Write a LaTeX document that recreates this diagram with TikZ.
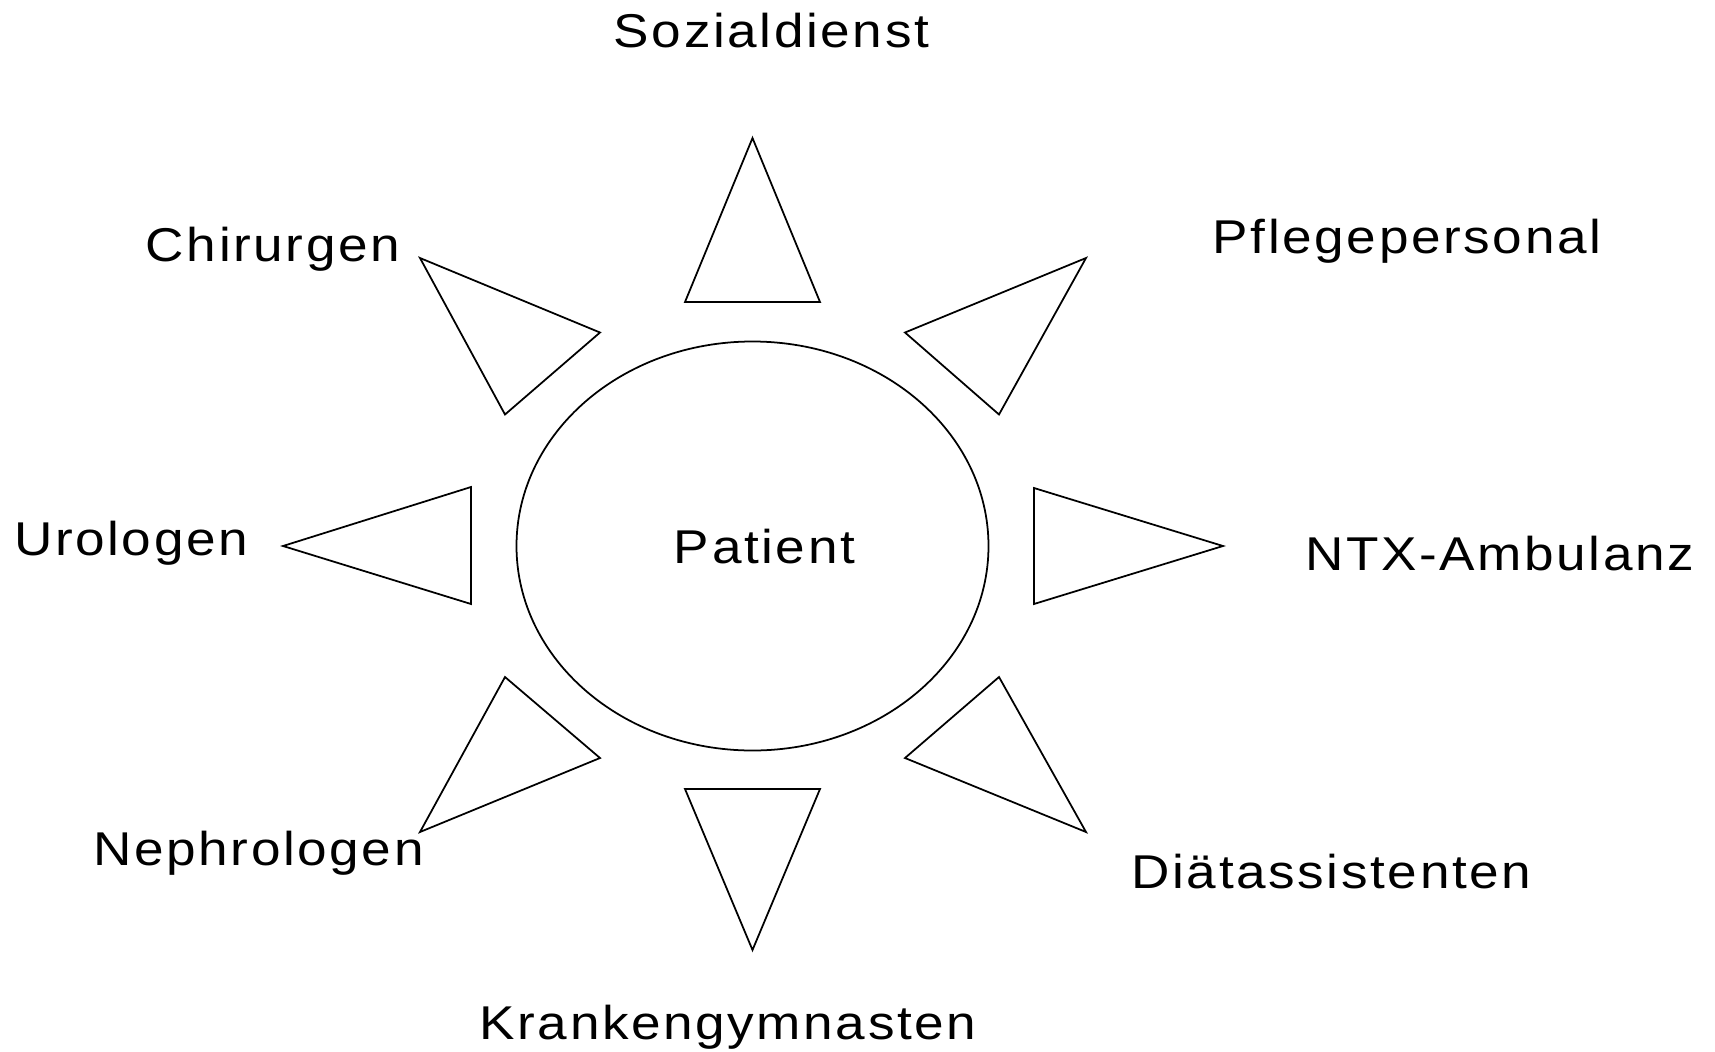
\documentclass[tikz,border=0pt]{standalone}
\usepackage{fontspec}
\setmainfont[FakeStretch=1.12, LetterSpace=5.5]{Liberation Sans}

\begin{document}
\begin{tikzpicture}[x=0.02cm, y=-0.02cm, line width=1pt,
    lbl/.style={anchor=base, inner sep=0pt, font=\fontsize{27}{32}\selectfont},
    ray/.style={draw, line join=miter}]

    \useasboundingbox (0,0) rectangle (1715,1052);

    % centre
    \draw (752.5,546) ellipse [x radius=236, y radius=204.5];
    \node[lbl] (patient) at (764.5,563) {Patient};

    % rays
    \draw[ray] (752.5,138) -- (685,302) -- (820,302) -- cycle;
    \draw[ray] (752.5,950) -- (685,789) -- (820,789) -- cycle;
    \draw[ray] (283,546) -- (471,487) -- (471,604) -- cycle;
    \draw[ray] (1223,546) -- (1034,488) -- (1034,604) -- cycle;
    \draw[ray] (420,258) -- (600,332.5) -- (505,414.5) -- cycle;
    \draw[ray] (1086,258) -- (905,332.5) -- (999,414.5) -- cycle;
    \draw[ray] (420,832) -- (600,758) -- (505,677) -- cycle;
    \draw[ray] (1086,832) -- (905,758) -- (999,677) -- cycle;

    % labels
    \node[lbl] (sozial) at (771.5,47) {Sozialdienst};
    \node[lbl] (chir) at (273,261) {Chirurgen};
    \node[lbl] (pflege) at (1407,253) {Pflegepersonal};
    \node[lbl] (uro) at (131,555) {Urologen};
    \node[lbl] (ntx) at (1499.5,570) {NTX-Ambulanz};
    \node[lbl] (nephro) at (258.5,865) {Nephrologen};
    \node[lbl] (diaet) at (1331.5,888) {Diätassistenten};
    \node[lbl] (kgym) at (728,1039) {Krankengymnasten};
\end{tikzpicture}
\end{document}
